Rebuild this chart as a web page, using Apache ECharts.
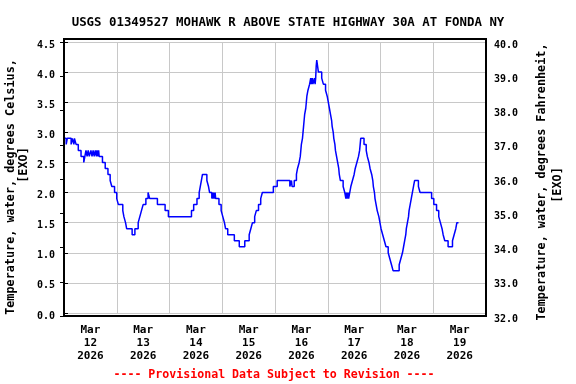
<!DOCTYPE html>
<html><head><meta charset="utf-8">
<script src="https://cdn.jsdelivr.net/npm/echarts@6/dist/echarts.min.js"></script>
<style>html,body{margin:0;padding:0;background:#fff}#c{width:576px;height:384px}</style>
</head><body><div id="c"></div>
<script>
const chartTitle = 'USGS 01349527 MOHAWK R ABOVE STATE HIGHWAY 30A AT FONDA NY';
const footerText = '---- Provisional Data Subject to Revision ----';
const leftName = 'Temperature, water, degrees Celsius,';
const rightName = 'Temperature, water, degrees Fahrenheit,';
const unitTag = '[EXO]';
const dayLabels = ['Mar\n12\n2026','Mar\n13\n2026','Mar\n14\n2026','Mar\n15\n2026','Mar\n16\n2026','Mar\n17\n2026','Mar\n18\n2026','Mar\n19\n2026'];
// hours since Mar 12 2026 00:00; value holds until next entry
const hours = [0,1.0,1.5,3.25,3.75,4.5,4.75,5.5,6.5,7.75,9.0,9.5,10.0,10.5,11.0,11.5,12.25,12.75,13.25,13.75,14.25,14.75,15.0,15.5,15.75,16.0,17.5,18.75,20.0,21.0,21.75,23.0,24.0,24.75,26.75,27.25,28.0,28.5,31.0,32.25,33.75,34.5,35.25,36.0,37.25,38.25,39.0,42.5,46.0,47.5,58.0,59.0,60.5,61.5,62.0,62.5,63.0,65.0,65.75,66.25,67.25,67.5,67.75,68.0,68.5,68.75,69.0,70.5,71.5,72.25,73.0,73.5,74.5,77.5,79.75,82.25,84.25,85.0,85.75,86.75,87.5,88.5,89.5,90.25,95.25,97.0,102.75,103.5,103.75,104.75,105.75,106.25,107.0,107.5,107.75,108.0,108.5,108.75,109.0,109.25,109.5,110.0,110.25,110.5,111.0,111.75,112.25,112.5,113.0,113.25,114.0,114.25,114.5,114.75,115.0,115.75,117.25,118.0,119.0,119.75,120.25,120.75,121.25,121.75,122.0,122.5,122.75,123.25,123.5,124.0,124.5,125.0,125.25,125.75,127.0,127.75,128.25,128.5,128.75,129.25,129.5,130.0,130.5,131.25,132.0,132.5,133.25,134.0,134.5,134.75,135.0,136.5,137.5,138.0,138.75,139.25,140.0,140.5,140.75,141.25,141.5,142.0,142.5,143.25,143.75,144.25,145.0,145.75,146.5,147.5,148.25,149.0,149.75,152.5,153.25,154.0,154.5,155.0,155.5,155.75,156.25,156.75,157.0,157.5,158.0,158.5,159.0,159.5,161.25,162.0,167.25,168.25,169.5,170.5,171.25,172.0,172.5,173.25,174.75,176.75,177.5,178.25,178.75,179.5];
const tempC = [2.9,2.8,2.9,2.8,2.9,2.8,2.9,2.8,2.7,2.6,2.5,2.6,2.7,2.6,2.7,2.6,2.7,2.6,2.7,2.6,2.7,2.6,2.7,2.6,2.7,2.6,2.5,2.4,2.3,2.2,2.1,2.0,1.9,1.8,1.7,1.6,1.5,1.4,1.3,1.4,1.5,1.6,1.7,1.8,1.9,2.0,1.9,1.8,1.7,1.6,1.7,1.8,1.9,2.0,2.1,2.2,2.3,2.2,2.1,2.0,1.9,2.0,1.9,2.0,1.9,2.0,1.9,1.8,1.7,1.6,1.5,1.4,1.3,1.2,1.1,1.2,1.3,1.4,1.5,1.6,1.7,1.8,1.9,2.0,2.1,2.2,2.1,2.2,2.1,2.2,2.3,2.4,2.5,2.6,2.7,2.8,2.9,3.0,3.1,3.2,3.3,3.4,3.5,3.6,3.7,3.8,3.9,3.8,3.9,3.8,3.9,3.8,3.9,4.1,4.2,4.0,3.9,3.8,3.7,3.6,3.5,3.4,3.3,3.2,3.1,3.0,2.9,2.8,2.7,2.6,2.5,2.4,2.3,2.2,2.1,2.0,1.9,2.0,1.9,2.0,1.9,2.0,2.1,2.2,2.3,2.4,2.5,2.6,2.7,2.8,2.9,2.8,2.7,2.6,2.5,2.4,2.3,2.2,2.1,2.0,1.9,1.8,1.7,1.6,1.5,1.4,1.3,1.2,1.1,1.0,0.9,0.8,0.7,0.8,0.9,1.0,1.1,1.2,1.3,1.4,1.5,1.6,1.7,1.8,1.9,2.0,2.1,2.2,2.1,2.0,1.9,1.8,1.7,1.6,1.5,1.4,1.3,1.2,1.1,1.2,1.3,1.4,1.5,1.5];
const celsiusRange = [0, 4.5, 0.5];
const fahrenheitRange = [32, 40, 1];
const hourRange = [0, 192, 24];

const FONT = '"DejaVu Sans Mono", monospace';
const chart = echarts.init(document.getElementById('c'), null, {renderer: 'canvas'});
const seriesData = hours.map((h, i) => [h, tempC[i]]);
chart.setOption({
  animation: false,
  backgroundColor: '#fff',
  title: {text: chartTitle, left: 'center', top: 12,
    textStyle: {fontFamily: FONT, fontSize: 12.4, fontWeight: 'bold', color: '#000'}},
  grid: [
    {left: 64, right: 90, top: 42, height: 271},
    {left: 64, right: 90, top: 42, height: 274}
  ],
  xAxis: [
    {type: 'value', gridIndex: 0, min: hourRange[0], max: hourRange[1], interval: hourRange[2],
      axisLine: {show: false}, axisTick: {show: false}, axisLabel: {show: false},
      splitLine: {show: true, lineStyle: {color: '#c8c8c8', width: 1}}},
    {type: 'category', gridIndex: 0, data: dayLabels, boundaryGap: true, position: 'bottom',
      axisLine: {show: false}, axisTick: {show: false}, splitLine: {show: false},
      axisLabel: {margin: 11, fontFamily: FONT, fontSize: 11, fontWeight: 'bold', lineHeight: 13, color: '#000', interval: 0}},
    {type: 'value', gridIndex: 1, show: false, min: 0, max: 1}
  ],
  yAxis: [
    {type: 'value', gridIndex: 0, position: 'left', min: celsiusRange[0], max: celsiusRange[1], interval: celsiusRange[2],
      axisLine: {show: false},
      axisTick: {show: true, inside: true, length: 4, lineStyle: {color: '#000'}},
      axisLabel: {margin: 9, fontFamily: FONT, fontSize: 10, fontWeight: 'bold', color: '#000',
        formatter: v => v.toFixed(1), verticalAlign: 'top', lineHeight: 6},
      splitLine: {show: true, lineStyle: {color: '#c8c8c8', width: 1}}},
    {type: 'value', gridIndex: 1, position: 'right', min: fahrenheitRange[0], max: fahrenheitRange[1], interval: fahrenheitRange[2],
      axisLine: {show: false},
      axisTick: {show: true, inside: true, length: 4, lineStyle: {color: '#000'}},
      axisLabel: {margin: 8, fontFamily: FONT, fontSize: 10, fontWeight: 'bold', color: '#000',
        formatter: v => v.toFixed(1), verticalAlign: 'top', lineHeight: 6},
      splitLine: {show: false}}
  ],
  series: [{
    type: 'line', xAxisIndex: 0, yAxisIndex: 0, data: seriesData, step: 'end',
    showSymbol: false, symbol: 'none', lineStyle: {color: '#0000ff', width: 1.5}, z: 5
  }],
  graphic: [
    {type: 'rect', shape: {x: 64, y: 39, width: 422, height: 277}, z: 100,
      style: {fill: 'none', stroke: '#000', lineWidth: 2}},
    {type: 'text', x: 11, y: 187, rotation: Math.PI / 2, z: 100,
      style: {text: leftName, font: 'bold 11.8px ' + FONT, align: 'center', verticalAlign: 'middle', fill: '#000'}},
    {type: 'text', x: 24, y: 165, rotation: Math.PI / 2, z: 100,
      style: {text: unitTag, font: 'bold 11.8px ' + FONT, align: 'center', verticalAlign: 'middle', fill: '#000'}},
    {type: 'text', x: 542, y: 182, rotation: Math.PI / 2, z: 100,
      style: {text: rightName, font: 'bold 11.8px ' + FONT, align: 'center', verticalAlign: 'middle', fill: '#000'}},
    {type: 'text', x: 558, y: 185, rotation: Math.PI / 2, z: 100,
      style: {text: unitTag, font: 'bold 11.8px ' + FONT, align: 'center', verticalAlign: 'middle', fill: '#000'}},
    {type: 'text', x: 274, y: 375, z: 100,
      style: {text: footerText, font: 'bold 11.6px ' + FONT, align: 'center', verticalAlign: 'middle', fill: '#ff0000'}}
  ]
});
</script></body></html>
